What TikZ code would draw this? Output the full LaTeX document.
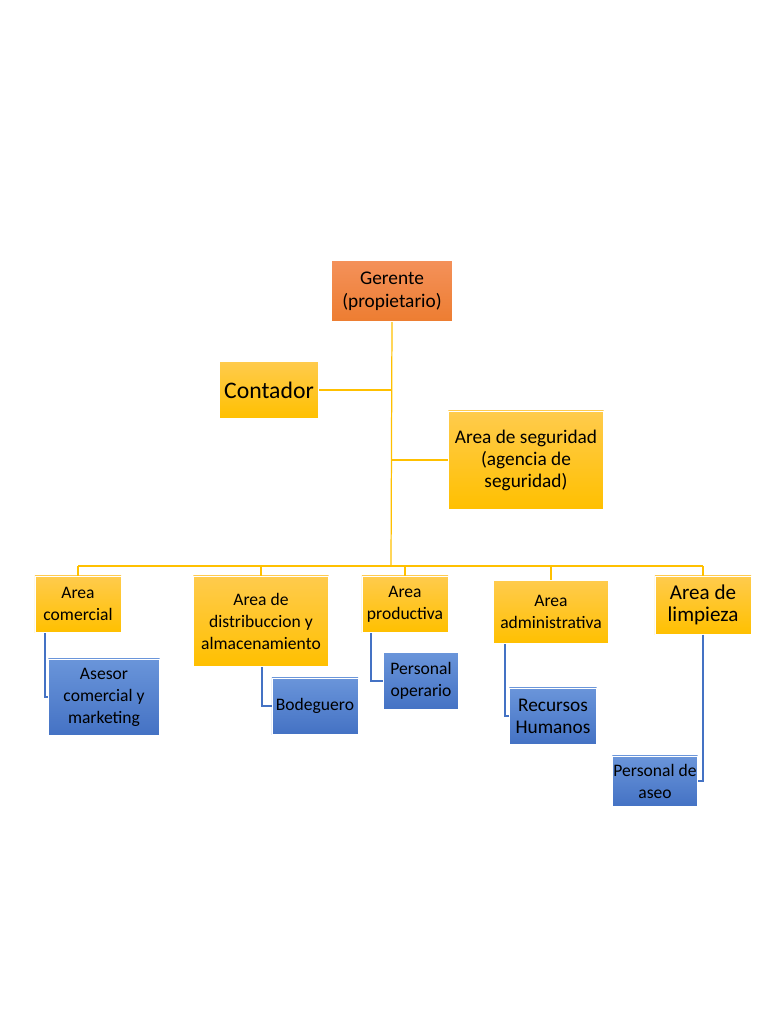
\documentclass[tikz,border=0pt]{standalone}
\usepackage{fontspec}
\setmainfont{Carlito}
\definecolor{orgtop}{HTML}{F4915A}
\definecolor{orgbot}{HTML}{ED7D31}
\definecolor{yeltop}{HTML}{FFCB4D}
\definecolor{yelbot}{HTML}{FFC000}
\definecolor{bluetop}{HTML}{6A95DA}
\definecolor{bluebot}{HTML}{4472C4}
\tikzset{
  jefe/.style={top color=orgtop, bottom color=orgbot, draw=white, align=center, inner sep=0pt, font=\fontsize{11}{13}\selectfont},
  area/.style={top color=yeltop, bottom color=yelbot, draw=white, align=center, inner sep=0pt, font=\fontsize{10}{12.5}\selectfont},
  persona/.style={top color=bluetop, bottom color=bluebot, draw=white, align=center, inner sep=0pt, font=\fontsize{10}{12.5}\selectfont},
  linea/.style={draw=yelbot, line width=0.7pt},
  subl/.style={draw=bluebot, line width=0.7pt}
}
\begin{document}
\begin{tikzpicture}[x=0.02cm, y=-0.02cm]
\useasboundingbox (0,0) rectangle (768,1024);
\newcommand{\caja}[6]{\node[#1, minimum width=#4*0.02cm-0.4pt, minimum height=#5*0.02cm-0.4pt] (#2) at (#3) {#6};}
\caja{jefe}{gerente}{392,291}{122}{62}{Gerente\\(propietario)}
\caja{area}{contador}{269,390}{100}{58}{\fontsize{13.5}{15}\selectfont Contador}
\caja{area}{seguridad}{526,460}{156}{99}{\fontsize{11}{14}\selectfont Area de seguridad\\\fontsize{11}{14}\selectfont(agencia de\\\fontsize{11}{14}\selectfont seguridad)}
\caja{area}{comercial}{78,604}{87}{57}{Area\\comercial}
\caja{area}{distrib}{261,621}{136}{91}{Area de\\distribuccion y\\almacenamiento}
\caja{area}{productiva}{405,604}{87}{57}{Area\\productiva}
\caja{area}{admin}{551,612}{116}{64}{Area\\administrativa}
\caja{area}{limpieza}{703,605}{97}{59}{\fontsize{12}{14}\selectfont Area de\\\fontsize{12}{14}\selectfont limpieza}
\caja{persona}{asesor}{104,697}{112}{77}{Asesor\\comercial y\\marketing}
\caja{persona}{bodeguero}{315,706}{87}{57}{Bodeguero}
\caja{persona}{operario}{421,681}{76}{58}{Personal\\operario}
\caja{persona}{rrhh}{553,716}{88}{57}{\fontsize{11}{13}\selectfont Recursos\\\fontsize{11}{13}\selectfont Humanos}
\caja{persona}{aseo}{655,781}{86}{51}{Personal de\\aseo}
\coordinate (bus) at (391,566);
% tronco principal
\draw[linea] (gerente.south) -- (bus);
\draw[linea] (contador.east) -- (contador.east -| gerente.south);
\draw[linea] (seguridad.west) -- (seguridad.west -| gerente.south);
\draw[linea] (bus -| comercial.north) -- (bus -| limpieza.north);
\foreach \n in {comercial,distrib,productiva,admin,limpieza}
  \draw[linea] (bus -| \n.north) -- (\n.north);
% personal
\draw[subl] (45,633) |- (asesor.west);
\draw[subl] (262,667) |- (bodeguero.west);
\draw[subl] (371,633) |- (operario.west);
\draw[subl] (505,644) |- (rrhh.west);
\draw[subl] (limpieza.south) |- (aseo.east);
\end{tikzpicture}
\end{document}
